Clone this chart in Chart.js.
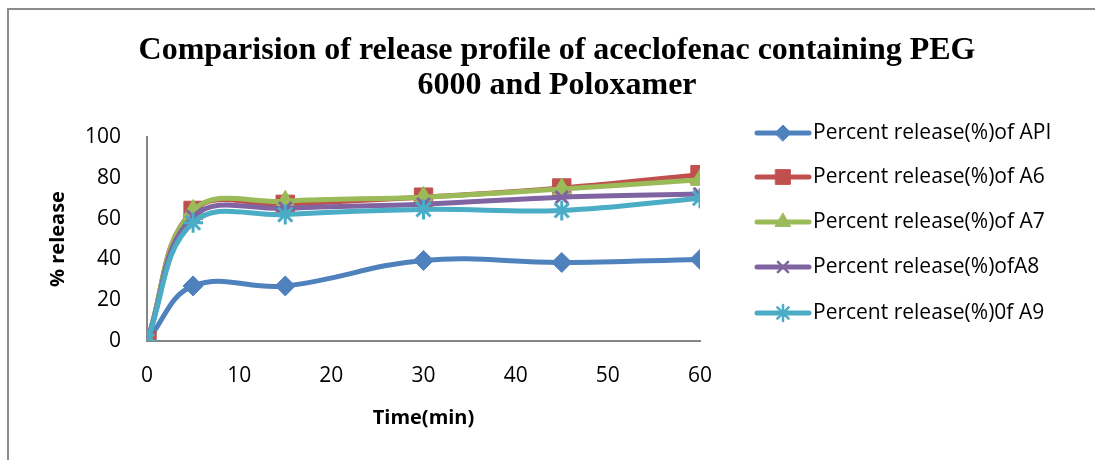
<!DOCTYPE html>
<html>
<head>
<meta charset="utf-8">
<script src="https://cdn.jsdelivr.net/npm/chart.js@4.4.0/dist/chart.umd.min.js"></script>
<style>
  html, body { margin: 0; padding: 0; background: #fff; overflow: hidden; }
  #wrap { position: relative; width: 1095px; height: 460px; overflow: hidden; }
  #frame { position: absolute; left: 7px; top: 8px; width: 1100px; height: 470px;
           border-left: 2px solid #8c8c8c; border-top: 2px solid #8c8c8c; }
  canvas { position: absolute; left: 0; top: 0; }
</style>
</head>
<body>
<div id="wrap">
  <div id="frame"></div>
  <canvas id="chart" width="1095" height="460"></canvas>
</div>
<script>
// time points (min)
const times = [0, 5, 15, 30, 45, 60];

// percent release values per formulation
const apiRelease = [0, 27, 27, 39.5, 38.5, 40];
const a6Release = [0, 64, 67, 70.5, 75, 81.5];
const a7Release = [0, 64, 68.5, 70.5, 74.5, 79];
const a8Release = [0, 61, 65, 67, 70.5, 72];
const a9Release = [0, 58, 62, 64.5, 64, 70];

const seriesNames = [
  'Percent release(%)of API',
  'Percent release(%)of A6',
  'Percent release(%)of A7',
  'Percent release(%)ofA8',
  'Percent release(%)0f A9'
];
const titleLines = ['Comparision of release profile of aceclofenac containing PEG', '6000 and Poloxamer'];

const seriesColors = ['#4F81BD', '#C0504D', '#9BBB59', '#8064A2', '#4BACC6'];
const seriesMarkers = ['rectRot', 'rect', 'triangle', 'crossRot', 'star'];
const markerSizes = [10, 13, 11, 9, 10];
const seriesValues = [apiRelease, a6Release, a7Release, a8Release, a9Release];

const sans = '"Open Sans", "Liberation Sans", Arial, sans-serif';

const toPoints = vals => vals.map((v, i) => ({ x: times[i], y: v }));

const datasets = seriesValues.map((vals, i) => {
  const open = seriesMarkers[i] === 'crossRot' || seriesMarkers[i] === 'star';
  return {
    label: seriesNames[i],
    data: toPoints(vals),
    borderColor: seriesColors[i],
    backgroundColor: seriesColors[i],
    borderWidth: 5,
    tension: 0.4,
    pointStyle: seriesMarkers[i],
    pointRadius: markerSizes[i],
    pointBackgroundColor: seriesColors[i],
    pointBorderColor: seriesColors[i],
    pointBorderWidth: open ? 3 : 1,
    order: 5 - i // later series drawn on top
  };
});

// title and legend drawn by hand, placed like the spreadsheet chart
const decorations = {
  id: 'decorations',
  afterDraw(chart) {
    const ctx = chart.ctx;
    ctx.save();
    ctx.fillStyle = '#000';
    ctx.font = 'bold 32px "Liberation Serif", "Times New Roman", serif';
    ctx.textAlign = 'center';
    ctx.textBaseline = 'alphabetic';
    ctx.fillText(titleLines[0], 557, 59);
    ctx.fillText(titleLines[1], 557, 94);

    const rows = [133, 177, 222, 267, 313];
    ctx.font = '21px ' + sans;
    ctx.textBaseline = 'middle';
    ctx.textAlign = 'left';
    seriesNames.forEach((name, i) => {
      const y = rows[i];
      ctx.strokeStyle = seriesColors[i];
      ctx.lineWidth = 5;
      ctx.lineCap = 'round';
      ctx.beginPath();
      ctx.moveTo(757, y);
      ctx.lineTo(809, y);
      ctx.stroke();
      const open = seriesMarkers[i] === 'crossRot' || seriesMarkers[i] === 'star';
      ctx.fillStyle = seriesColors[i];
      ctx.strokeStyle = seriesColors[i];
      ctx.lineWidth = open ? 2.5 : 1;
      Chart.helpers.drawPoint(ctx, {
        pointStyle: seriesMarkers[i],
        radius: markerSizes[i] * 0.8,
        borderWidth: ctx.lineWidth,
        rotation: 0
      }, 783, y);
      ctx.fillStyle = '#000';
      ctx.fillText(name, 813, y);
    });
    ctx.restore();
  }
};

new Chart(document.getElementById('chart').getContext('2d'), {
  type: 'line',
  data: { datasets },
  plugins: [decorations],
  options: {
    responsive: false,
    animation: false,
    layout: { padding: { left: 20, right: 395, top: 137, bottom: 0 } },
    plugins: {
      legend: { display: false },
      tooltip: { enabled: false },
      title: { display: false }
    },
    scales: {
      x: {
        type: 'linear',
        min: 0,
        max: 60,
        grid: { display: false, drawTicks: false },
        border: { display: true, color: '#868686', width: 2 },
        ticks: {
          stepSize: 10,
          padding: 22,
          color: '#000',
          font: { family: sans, size: 21 }
        },
        title: {
          display: true,
          text: 'Time(min)',
          color: '#000',
          font: { family: sans, size: 20, weight: 'bold' },
          padding: { top: 0, bottom: 30 }
        },
        afterFit(scale) { scale.height = 119; }
      },
      y: {
        min: 0,
        max: 100,
        grid: { display: false, drawTicks: false },
        border: { display: true, color: '#868686', width: 2 },
        ticks: {
          stepSize: 20,
          padding: 26,
          color: '#000',
          font: { family: sans, size: 21 }
        },
        title: {
          display: true,
          text: '% release',
          color: '#000',
          font: { family: sans, size: 20, weight: 'bold' },
          padding: { top: 26, bottom: 0 }
        },
        afterFit(scale) { scale.width = 127; }
      }
    }
  }
});
</script>
</body>
</html>
